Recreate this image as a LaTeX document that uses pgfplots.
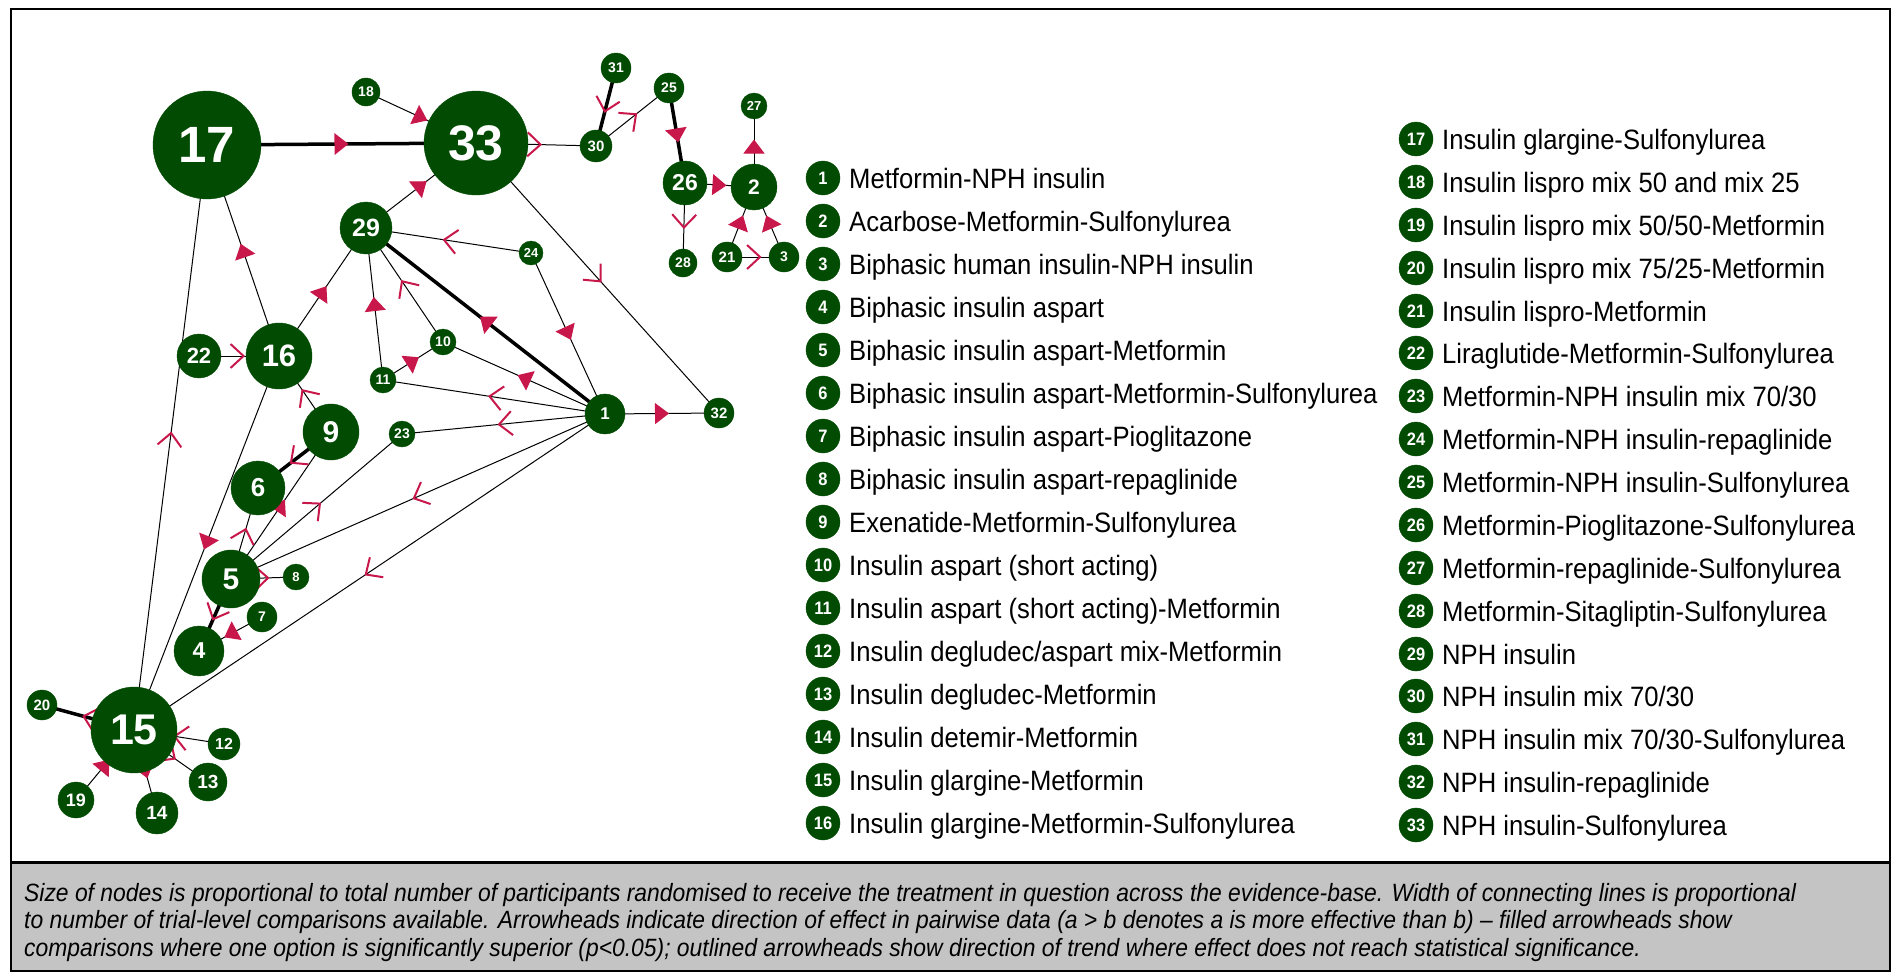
\documentclass[border=0pt]{standalone}
\usepackage{fontspec}
\setmainfont{Liberation Sans}[FakeStretch=0.915]
\newfontfamily\nodefont{Liberation Sans}
\usepackage{pgfplots}
\pgfplotsset{compat=1.18}
\usepackage{pgfplotstable}
\usetikzlibrary{arrows.meta,decorations.markings}
\definecolor{nodegreen}{RGB}{2,75,2}
\definecolor{arrowred}{RGB}{200,24,75}
\definecolor{capgray}{RGB}{196,196,196}

\tikzset{
  lnk/.style={black, line width=1pt, mark=none},
  fa/.style={lnk, postaction={decorate, decoration={markings,
      mark=at position 0.5 with {\arrow[arrowred, xshift=7pt]{Triangle[length=14pt,width=21pt]}}}}},
  oa/.style={lnk, postaction={decorate, decoration={markings,
      mark=at position 0.5 with {\arrow[arrowred, xshift=6pt]{Straight Barb[length=13pt,width=24pt,line width=2pt]}}}}},
  thk/.style={line width=3.5pt},
}
\pgfplotsset{
  base/.style={
    width=1892pt, height=972pt, scale only axis,
    xmin=0, xmax=1892, ymin=0, ymax=972, y dir=reverse,
    hide axis, clip=false},
  % node: mark radius (px), label size (pt)
  nd/.style 2 args={only marks, mark=*, mark size=#1,
    mark options={draw=nodegreen, fill=nodegreen},
    point meta=explicit symbolic, nodes near coords,
    every node near coord/.append style={anchor=center, inner sep=0pt,
      text=white, font=\nodefont\bfseries\fontsize{#2}{#2}\selectfont}},
}

\pgfplotstableread[col sep=semicolon]{
x;y;id;name
823;178;1;Metformin-NPH insulin
823;221;2;Acarbose-Metformin-Sulfonylurea
823;264;3;Biphasic human insulin-NPH insulin
823;307;4;Biphasic insulin aspart
823;350;5;Biphasic insulin aspart-Metformin
823;393;6;Biphasic insulin aspart-Metformin-Sulfonylurea
823;436;7;Biphasic insulin aspart-Pioglitazone
823;479;8;Biphasic insulin aspart-repaglinide
823;522;9;Exenatide-Metformin-Sulfonylurea
823;565;10;Insulin aspart (short acting)
823;608;11;Insulin aspart (short acting)-Metformin
823;651;12;Insulin degludec/aspart mix-Metformin
823;694;13;Insulin degludec-Metformin
823;737;14;Insulin detemir-Metformin
823;780;15;Insulin glargine-Metformin
823;823;16;Insulin glargine-Metformin-Sulfonylurea
1416;139;17;Insulin glargine-Sulfonylurea
1416;182;18;Insulin lispro mix 50 and mix 25
1416;225;19;Insulin lispro mix 50/50-Metformin
1416;268;20;Insulin lispro mix 75/25-Metformin
1416;311;21;Insulin lispro-Metformin
1416;353;22;Liraglutide-Metformin-Sulfonylurea
1416;396;23;Metformin-NPH insulin mix 70/30
1416;439;24;Metformin-NPH insulin-repaglinide
1416;482;25;Metformin-NPH insulin-Sulfonylurea
1416;525;26;Metformin-Pioglitazone-Sulfonylurea
1416;568;27;Metformin-repaglinide-Sulfonylurea
1416;611;28;Metformin-Sitagliptin-Sulfonylurea
1416;654;29;NPH insulin
1416;696;30;NPH insulin mix 70/30
1416;739;31;NPH insulin mix 70/30-Sulfonylurea
1416;782;32;NPH insulin-repaglinide
1416;825;33;NPH insulin-Sulfonylurea
}\legtab

\begin{document}
\begin{tikzpicture}
\begin{axis}[base]
\path (axis cs:0,0) rectangle (axis cs:1892,972);
\fill[capgray] (axis cs:11,862) rectangle (axis cs:1890,971);
\draw[line width=3pt] (axis cs:11,862) -- (axis cs:1890,862);
\draw[line width=2.5pt] (axis cs:11,9) rectangle (axis cs:1890,971);
\end{axis}

% significant comparisons (filled heads), arrow points to the second end
\begin{axis}[base]
\addplot[fa,thk] coordinates {(207,145) (476,143)};
\addplot[fa] coordinates {(366,92) (476,143)};
\addplot[fa,thk] coordinates {(669,88) (685,183)};
\addplot[fa] coordinates {(685,183) (754,187)};
\addplot[fa] coordinates {(754,187) (754,106)};
\addplot[fa] coordinates {(727,257) (754,187)};
\addplot[fa] coordinates {(784,257) (754,187)};
\addplot[fa] coordinates {(366,228) (476,143)};
\addplot[fa] coordinates {(279,356) (207,145)};
\addplot[fa] coordinates {(279,356) (366,228)};
\addplot[fa] coordinates {(383,380) (366,228)};
\addplot[fa,thk] coordinates {(605,414) (366,228)};
\addplot[fa] coordinates {(531,253) (605,414)};
\addplot[fa] coordinates {(383,380) (443,342)};
\addplot[fa] coordinates {(605,414) (443,342)};
\addplot[fa] coordinates {(605,414) (719,413)};
\addplot[fa] coordinates {(231,579) (331,432)};
\addplot[fa] coordinates {(279,356) (134,730)};
\addplot[fa] coordinates {(262,617) (199,651)};
\addplot[fa] coordinates {(76,800) (134,730)};
\addplot[fa] coordinates {(134,730) (157,813)};
\end{axis}

% trends (outlined heads)
\begin{axis}[base]
\addplot[oa] coordinates {(476,143) (596,146)};
\addplot[oa,thk] coordinates {(616,68) (596,146)};
\addplot[oa] coordinates {(596,146) (669,88)};
\addplot[oa] coordinates {(685,183) (683,263)};
\addplot[oa] coordinates {(727,257) (784,257)};
\addplot[oa] coordinates {(531,253) (366,228)};
\addplot[oa] coordinates {(476,143) (719,413)};
\addplot[oa] coordinates {(134,730) (207,145)};
\addplot[oa] coordinates {(443,342) (366,228)};
\addplot[oa] coordinates {(605,414) (383,380)};
\addplot[oa] coordinates {(605,414) (402,434)};
\addplot[oa] coordinates {(605,414) (231,579)};
\addplot[oa] coordinates {(605,414) (134,730)};
\addplot[oa] coordinates {(231,579) (402,434)};
\addplot[oa] coordinates {(199,356) (279,356)};
\addplot[oa] coordinates {(331,432) (279,356)};
\addplot[oa,thk] coordinates {(331,432) (258,488)};
\addplot[oa] coordinates {(231,579) (258,488)};
\addplot[oa] coordinates {(231,579) (296,577)};
\addplot[oa,thk] coordinates {(231,579) (199,651)};
\addplot[oa,thk] coordinates {(134,730) (42,705)};
\addplot[oa] coordinates {(224,744) (134,730)};
\addplot[oa] coordinates {(134,730) (208,782)};
\end{axis}

% treatment nodes
\begin{axis}[base]
\addplot[nd={20}{17}] coordinates {(605,414) [1]};
\addplot[nd={23}{21}] coordinates {(754,187) [2]};
\addplot[nd={15}{14}] coordinates {(784,257) [3]};
\addplot[nd={25}{23}] coordinates {(199,651) [4]};
\addplot[nd={29}{30}] coordinates {(231,579) [5]};
\addplot[nd={27}{26}] coordinates {(258,488) [6]};
\addplot[nd={15}{14}] coordinates {(262,617) [7]};
\addplot[nd={13}{13}] coordinates {(296,577) [8]};
\addplot[nd={28}{30}] coordinates {(331,432) [9]};
\addplot[nd={13}{14}] coordinates {(443,342) [10]};
\addplot[nd={13}{14}] coordinates {(383,380) [11]};
\addplot[nd={16}{16}] coordinates {(224,744) [12]};
\addplot[nd={19}{19}] coordinates {(208,782) [13]};
\addplot[nd={21}{19}] coordinates {(157,813) [14]};
\addplot[nd={43}{43}] coordinates {(134,730) [15]};
\addplot[nd={33}{31}] coordinates {(279,356) [16]};
\addplot[nd={54}{51}] coordinates {(207,145) [17]};
\addplot[nd={14}{14}] coordinates {(366,92) [18]};
\addplot[nd={18}{18}] coordinates {(76,800) [19]};
\addplot[nd={15}{15}] coordinates {(42,705) [20]};
\addplot[nd={15}{15}] coordinates {(727,257) [21]};
\addplot[nd={22}{22}] coordinates {(199,356) [22]};
\addplot[nd={13}{14}] coordinates {(402,434) [23]};
\addplot[nd={12}{13}] coordinates {(531,253) [24]};
\addplot[nd={15}{14}] coordinates {(669,88) [25]};
\addplot[nd={22}{23}] coordinates {(685,183) [26]};
\addplot[nd={13}{13}] coordinates {(754,106) [27]};
\addplot[nd={14}{14}] coordinates {(683,263) [28]};
\addplot[nd={26}{25}] coordinates {(366,228) [29]};
\addplot[nd={16}{15}] coordinates {(596,146) [30]};
\addplot[nd={15}{14}] coordinates {(616,68) [31]};
\addplot[nd={15}{15}] coordinates {(719,413) [32]};
\addplot[nd={52}{50}] coordinates {(476,143) [33]};
\end{axis}

% key bullets
\begin{axis}[base]
\addplot[only marks, mark=*, mark size=17,
  mark options={draw=nodegreen, fill=nodegreen},
  point meta=explicit symbolic, nodes near coords,
  every node near coord/.append style={anchor=center, inner sep=0pt,
    text=white, font=\bfseries\fontsize{18}{18}\selectfont},
] table[x=x, y=y, meta=id] {\legtab};
\end{axis}

% key names
\begin{axis}[base]
\addplot[only marks, mark=none,
  point meta=explicit symbolic, nodes near coords,
  every node near coord/.append style={anchor=base west, inner sep=0pt,
    text=black, xshift=26pt, yshift=-10pt, font=\fontsize{28}{30}\selectfont},
] table[x=x, y=y, meta=name] {\legtab};
\end{axis}

\node[anchor=north west, align=left, inner sep=0pt,
  font=\itshape\fontsize{25}{27.5}\selectfont] at (24pt,89pt)
  {Size of nodes is proportional to total number of participants randomised to receive the treatment in question across the evidence-base. Width of connecting lines is proportional\\
   to number of trial-level comparisons available. Arrowheads indicate direction of effect in pairwise data (a > b denotes a is more effective than b) – filled arrowheads show\\
   comparisons where one option is significantly superior (p<0.05); outlined arrowheads show direction of trend where effect does not reach statistical significance.};
\end{tikzpicture}
\end{document}
